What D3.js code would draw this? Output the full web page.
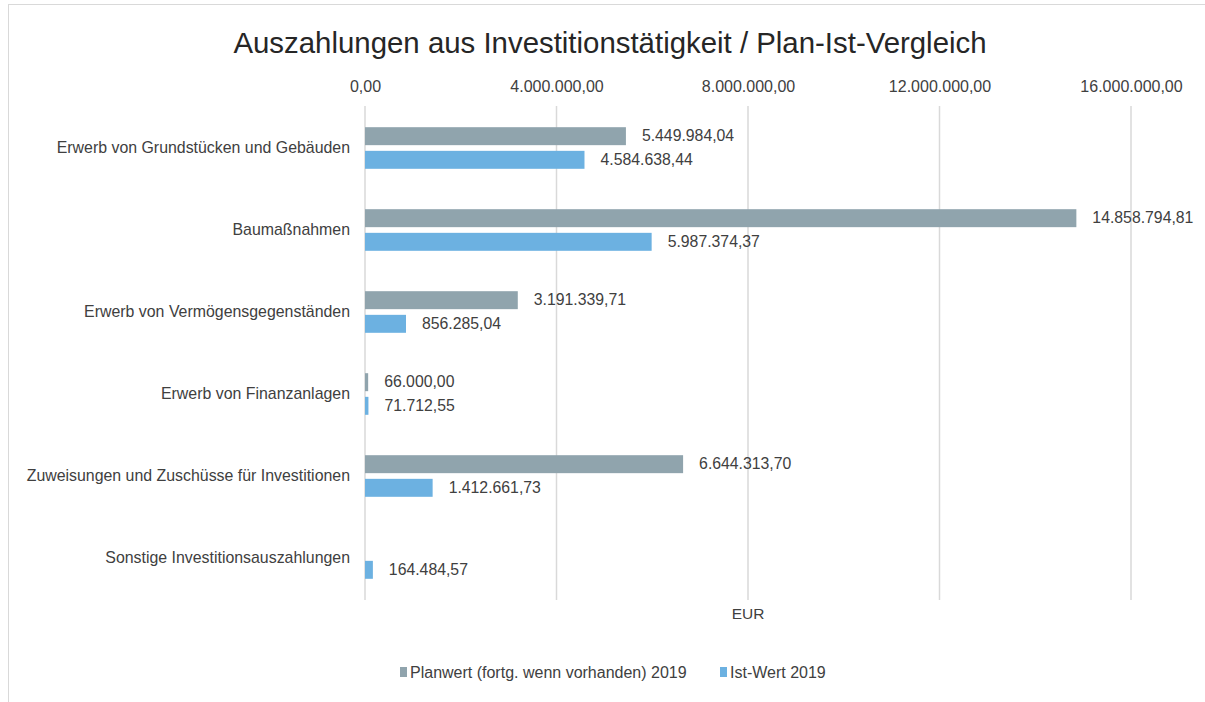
<!DOCTYPE html>
<html>
<head>
<meta charset="utf-8">
<script src="https://cdn.jsdelivr.net/npm/d3@7"></script>
<style>
  body { margin: 0; background: #fff; }
  text { font-family: "Liberation Sans", Arial, sans-serif; fill: #404040; }
</style>
</head>
<body>
<svg id="chart" width="1205" height="702"></svg>
<script>
var categories = [
  'Erwerb von Grundstücken und Gebäuden',
  'Baumaßnahmen',
  'Erwerb von Vermögensgegenständen',
  'Erwerb von Finanzanlagen',
  'Zuweisungen und Zuschüsse für Investitionen',
  'Sonstige Investitionsauszahlungen'
]
var series = ['Planwert (fortg. wenn vorhanden) 2019', 'Ist-Wert 2019']
var planwert = [5449984.04, 14858794.81, 3191339.71, 66000.00, 6644313.70, 0]
var istwert = [4584638.44, 5987374.37, 856285.04, 71712.55, 1412661.73, 164484.57]
var ticks = [0, 4000000, 8000000, 12000000, 16000000]
var colors = ['#90a4ad', '#6cb1e1']

var de = d3.formatLocale({ decimal: ',', thousands: '.', grouping: [3], currency: ['', ' €'] })
var fmt = de.format(',.2f')

var svg = d3.select('#chart')

// outer frame
svg.append('rect')
  .attr('x', 8.5).attr('y', 4.5)
  .attr('width', 1210).attr('height', 720)
  .attr('fill', 'none')
  .attr('stroke', '#d9d9d9')

svg.append('text')
  .attr('x', 610).attr('y', 53)
  .attr('text-anchor', 'middle')
  .style('font-size', '29.4px')
  .style('fill', '#262626')
  .text('Auszahlungen aus Investitionstätigkeit / Plan-Ist-Vergleich')

var x = d3.scaleLinear().domain([0, 16000000]).range([365, 1131])
var y0 = d3.scaleBand().domain(categories).range([107, 599])
var y1 = d3.scaleBand().domain(series).range([-20.8, 20.8]).paddingInner(0.24)

// gridlines
svg.append('g').selectAll('line')
  .data(ticks).enter().append('line')
  .attr('x1', function (d) { return x(d) }).attr('x2', function (d) { return x(d) })
  .attr('y1', 106).attr('y2', 600)
  .attr('stroke', '#d9d9d9')
  .attr('stroke-width', 1.5)

// top axis labels
var axis = d3.axisTop(x).tickValues(ticks).tickFormat(fmt).tickSize(0).tickPadding(0)
svg.append('g')
  .attr('transform', 'translate(0,92)')
  .call(axis)
  .call(function (g) { g.select('.domain').remove() })
  .selectAll('text')
  .style('font-size', '16px')
  .style('fill', '#404040')
  .style('font-family', '"Liberation Sans", Arial, sans-serif')

// category labels
svg.append('g').selectAll('text')
  .data(categories).enter().append('text')
  .attr('x', 350)
  .attr('y', function (d) { return y0(d) + y0.bandwidth() / 2 + 5 })
  .attr('text-anchor', 'end')
  .style('font-size', '15.9px')
  .text(function (d) { return d })

var rows = categories.map(function (c, i) {
  return { cat: c, values: [planwert[i], istwert[i]] }
})

var groups = svg.append('g').selectAll('g')
  .data(rows).enter().append('g')
  .attr('transform', function (d) { return 'translate(0,' + (y0(d.cat) + y0.bandwidth() / 2) + ')' })

var items = groups.selectAll('g')
  .data(function (d) { return d.values.map(function (v, j) { return { s: series[j], v: v, j: j } }) })
  .enter().append('g')

items.filter(function (d) { return d.v > 0 }).append('rect')
  .attr('x', x(0))
  .attr('y', function (d) { return y1(d.s) })
  .attr('width', function (d) { return Math.max(x(d.v) - x(0), 2.5) })
  .attr('height', y1.bandwidth())
  .attr('fill', function (d) { return colors[d.j] })

items.filter(function (d) { return d.v > 0 }).append('text')
  .attr('x', function (d) { return Math.max(x(d.v), x(0) + 2.5) + 16 })
  .attr('y', function (d) { return y1(d.s) + y1.bandwidth() / 2 + 5 })
  .style('font-size', '15.8px')
  .text(function (d) { return fmt(d.v) })

svg.append('text')
  .attr('x', 748).attr('y', 619)
  .attr('text-anchor', 'middle')
  .style('font-size', '15.5px')
  .text('EUR')

// legend
var legend = svg.append('g')
var lx = [400, 720]
series.forEach(function (s, i) {
  legend.append('rect')
    .attr('x', lx[i]).attr('y', 667)
    .attr('width', 7).attr('height', 10)
    .attr('fill', colors[i])
  legend.append('text')
    .attr('x', lx[i] + 10).attr('y', 678)
    .style('font-size', '16px')
    .text(s)
})
</script>
</body>
</html>
